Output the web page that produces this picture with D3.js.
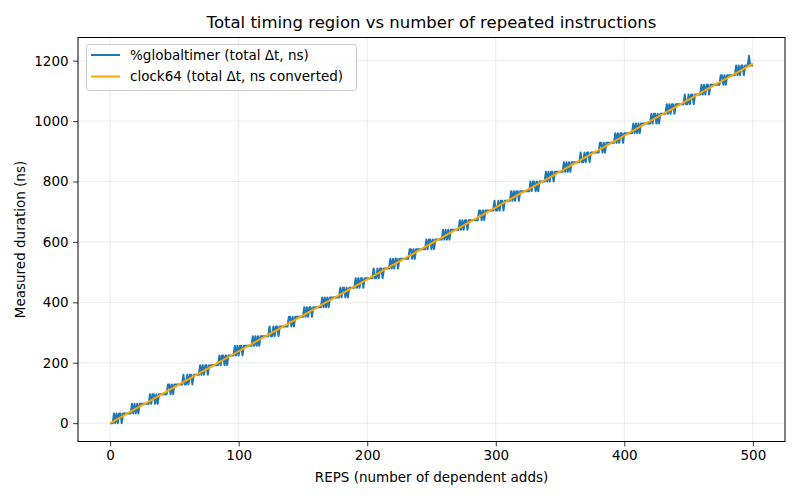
<!DOCTYPE html>
<html>
<head>
<meta charset="utf-8">
<script src="https://cdn.jsdelivr.net/npm/d3@7"></script>
<style>
  body { margin: 0; background: #fff; }
  svg text { font-family: "DejaVu Sans", sans-serif; fill: #000; }
</style>
</head>
<body>
<svg id="chart" width="800" height="500"></svg>
<script>
// %globaltimer total delta per REPS value (ns), REPS = 0..500
const globaltimer = [
  0, 0, 0,
  32, 0, 32, 0, 32, 32, 0, 32, 32,
  32, 32, 32, 32, 32,
  64, 32, 64, 32, 64, 32, 64, 64,
  64, 64, 64, 64, 64,
  64, 96, 64, 96, 96, 64, 96, 64, 96,
  96, 96, 96, 96, 96,
  96, 128, 128, 96, 128, 96, 128, 128,
  128, 128, 128, 128, 128,
  160, 128, 128, 160, 128, 160, 160, 128, 160,
  160, 160, 160, 160,
  192, 160, 192, 160, 192, 192, 160, 192, 192,
  192, 192, 192, 192, 192,
  192, 224, 192, 224, 224, 192, 224, 192, 224,
  224, 224, 224, 224,
  256, 224, 256, 224, 256, 256, 224, 256, 256,
  256, 256, 256, 256, 256,
  288, 256, 288, 256, 288, 256, 288, 288,
  288, 288, 288, 288, 288,
  320, 288, 288, 320, 288, 320, 320, 288, 320,
  320, 320, 320, 320, 320,
  320, 352, 352, 320, 352, 320, 352, 352,
  352, 352, 352, 352, 352,
  384, 352, 384, 352, 384, 384, 352, 384, 384,
  384, 384, 384, 384, 384,
  416, 384, 416, 384, 416, 384, 416, 416,
  416, 416, 416, 416, 416,
  416, 448, 416, 448, 448, 416, 448, 416, 448,
  448, 448, 448, 448,
  480, 448, 480, 448, 480, 480, 448, 480, 480,
  480, 480, 480, 480, 480,
  512, 480, 480, 512, 480, 512, 512, 480, 512,
  512, 512, 512, 512,
  544, 512, 544, 512, 544, 544, 512, 544, 544,
  544, 544, 544, 544, 544,
  544, 576, 576, 544, 576, 544, 576, 576,
  576, 576, 576, 576, 576,
  576, 608, 576, 608, 608, 576, 608, 576, 608,
  608, 608, 608, 608, 608,
  640, 608, 640, 608, 640, 608, 640, 640,
  640, 640, 640, 640, 640,
  672, 640, 672, 640, 672, 672, 640, 672, 672,
  672, 672, 672, 672, 672,
  672, 704, 704, 672, 704, 672, 704, 704,
  704, 704, 704, 704, 704,
  736, 704, 704, 736, 704, 736, 736, 704, 736,
  736, 736, 736, 736,
  768, 736, 768, 736, 768, 768, 736, 768, 768,
  768, 768, 768, 768, 768,
  768, 800, 768, 800, 800, 768, 800, 768, 800,
  800, 800, 800, 800,
  832, 800, 832, 800, 832, 832, 800, 832, 832,
  832, 832, 832, 832, 832,
  864, 832, 864, 832, 864, 832, 864, 864,
  864, 864, 864, 864, 864,
  896, 864, 864, 896, 864, 896, 896, 864, 896,
  896, 896, 896, 896, 896,
  896, 928, 928, 896, 928, 896, 928, 928,
  928, 928, 928, 928, 928,
  960, 928, 960, 928, 960, 960, 928, 960, 960,
  960, 960, 960, 960, 960,
  992, 960, 992, 960, 992, 960, 992, 992,
  992, 992, 992, 992, 992,
  992, 1024, 992, 1024, 1024, 992, 1024, 992, 1024,
  1024, 1024, 1024, 1024,
  1056, 1024, 1056, 1024, 1056, 1056, 1024, 1056, 1056,
  1056, 1056, 1056, 1056, 1056,
  1088, 1056, 1056, 1088, 1056, 1088, 1088, 1056, 1088,
  1088, 1088, 1088, 1088,
  1120, 1088, 1120, 1088, 1120, 1120, 1088, 1120, 1120,
  1120, 1120, 1120, 1120, 1120,
  1120, 1152, 1152, 1120, 1152, 1120, 1152, 1152,
  1152, 1152, 1152, 1152, 1152,
  1184, 1152, 1184, 1152, 1184, 1184, 1152, 1184, 1184,
  1184, 1216, 1184, 1184, 1184
];

// clock64 converted to ns, read every 10 REPS
const clockReps = [0, 10, 20, 30, 40, 50, 60, 70, 80, 90, 100, 110, 120, 130, 140, 150, 160, 170, 180, 190,
  200, 210, 220, 230, 240, 250, 260, 270, 280, 290, 300, 310, 320, 330, 340, 350, 360, 370, 380, 390,
  400, 410, 420, 430, 440, 450, 460, 470, 480, 490, 500];
const clock64 = [0, 24, 48, 71, 95, 119, 143, 167, 190, 214, 238, 262, 286, 309, 333, 357, 381, 405, 428, 452,
  476, 500, 524, 547, 571, 595, 619, 643, 666, 690, 714, 738, 762, 785, 809, 833, 857, 881, 904, 928,
  952, 976, 1000, 1023, 1047, 1071, 1095, 1119, 1142, 1166, 1190];

const xTicks = [0, 100, 200, 300, 400, 500];
const yTicks = [0, 200, 400, 600, 800, 1000, 1200];

const seriesNames = ["%globaltimer (total \u0394t, ns)", "clock64 (total \u0394t, ns converted)"];
const seriesColors = ["#1f77b4", "#ffa500"];

const gtData = globaltimer.map((v, i) => ({ x: i, y: v }));
const ckData = clock64.map((v, i) => ({ x: clockReps[i], y: v }));

const plot = { left: 78, right: 785, top: 37.5, bottom: 441.5 };

const svg = d3.select('#chart');

// 5% margins like matplotlib
const xExt = [0, 500];
const yExt = d3.extent(globaltimer.concat(clock64));
const xPad = (xExt[1] - xExt[0]) * 0.05;
const yPad = (yExt[1] - yExt[0]) * 0.05;

const xScale = d3.scaleLinear()
  .domain([xExt[0] - xPad, xExt[1] + xPad])
  .range([plot.left, plot.right]);

const yScale = d3.scaleLinear()
  .domain([yExt[0] - yPad, yExt[1] + yPad])
  .range([plot.bottom, plot.top]);

// grid
const grid = svg.append('g');
grid.selectAll('line.gx')
  .data(xTicks)
  .join('line')
  .attr('class', 'gx')
  .attr('x1', d => xScale(d)).attr('x2', d => xScale(d))
  .attr('y1', plot.top).attr('y2', plot.bottom)
  .attr('stroke', '#b0b0b0').attr('stroke-opacity', 0.3).attr('stroke-width', 0.8);
grid.selectAll('line.gy')
  .data(yTicks)
  .join('line')
  .attr('class', 'gy')
  .attr('x1', plot.left).attr('x2', plot.right)
  .attr('y1', d => yScale(d)).attr('y2', d => yScale(d))
  .attr('stroke', '#b0b0b0').attr('stroke-opacity', 0.3).attr('stroke-width', 0.8);

// lines
const line = d3.line().x(d => xScale(d.x)).y(d => yScale(d.y));

svg.append('path')
  .datum(gtData)
  .attr('d', line)
  .attr('fill', 'none')
  .attr('stroke', seriesColors[0])
  .attr('stroke-width', 2)
  .attr('stroke-linejoin', 'round');

svg.append('path')
  .datum(ckData)
  .attr('d', line)
  .attr('fill', 'none')
  .attr('stroke', seriesColors[1])
  .attr('stroke-width', 2)
  .attr('stroke-linejoin', 'round');

// axes
const xAxis = svg.append('g')
  .attr('transform', `translate(0,${plot.bottom})`)
  .call(d3.axisBottom(xScale).tickValues(xTicks).tickSize(4.9).tickPadding(4.5).tickFormat(d3.format('d')));
const yAxis = svg.append('g')
  .attr('transform', `translate(${plot.left},0)`)
  .call(d3.axisLeft(yScale).tickValues(yTicks).tickSize(4.9).tickPadding(4.5).tickFormat(d3.format('d')));

[xAxis, yAxis].forEach(ax => {
  ax.select('.domain').remove();
  ax.selectAll('.tick line').attr('stroke', '#000').attr('stroke-width', 0.8);
  ax.selectAll('.tick text').style('font-size', '13.5px').attr('font-family', '"DejaVu Sans", sans-serif');
});

// frame
svg.append('rect')
  .attr('x', plot.left).attr('y', plot.top)
  .attr('width', plot.right - plot.left).attr('height', plot.bottom - plot.top)
  .attr('fill', 'none').attr('stroke', '#000').attr('stroke-width', 1);

// title and labels
svg.append('text')
  .attr('x', (plot.left + plot.right) / 2).attr('y', 28)
  .attr('text-anchor', 'middle')
  .style('font-size', '16.5px')
  .text('Total timing region vs number of repeated instructions');

svg.append('text')
  .attr('x', (plot.left + plot.right) / 2).attr('y', 482)
  .attr('text-anchor', 'middle')
  .style('font-size', '13.5px')
  .text('REPS (number of dependent adds)');

svg.append('text')
  .attr('transform', `translate(25,${(plot.top + plot.bottom) / 2}) rotate(-90)`)
  .attr('text-anchor', 'middle')
  .style('font-size', '13.5px')
  .text('Measured duration (ns)');

// legend
const legend = svg.append('g');
legend.append('rect')
  .attr('x', 86.5).attr('y', 44.5)
  .attr('width', 270).attr('height', 46)
  .attr('rx', 3)
  .attr('fill', '#fff').attr('fill-opacity', 0.8)
  .attr('stroke', '#cccccc').attr('stroke-width', 1);

const items = legend.selectAll('g.item')
  .data(seriesNames)
  .join('g')
  .attr('class', 'item')
  .attr('transform', (d, i) => `translate(0,${55 + i * 21.5})`);
items.append('line')
  .attr('x1', 91).attr('x2', 120)
  .attr('stroke', (d, i) => seriesColors[i])
  .attr('stroke-width', 2);
items.append('text')
  .attr('x', 130).attr('y', 0)
  .attr('dy', '0.35em')
  .style('font-size', '13.5px')
  .text(d => d);
</script>
</body>
</html>
